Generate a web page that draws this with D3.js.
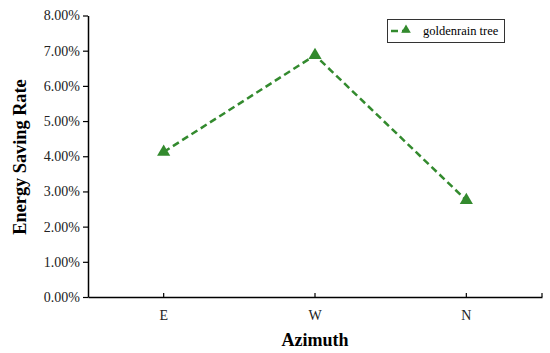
<!DOCTYPE html>
<html><head><meta charset="utf-8">
<script src="https://cdn.jsdelivr.net/npm/d3@7"></script>
<style>body{margin:0;background:#fff}svg{display:block}</style>
</head><body>
<svg id="c" width="550" height="353"></svg>
<script>
const categories = ["E", "W", "N"];
const values = [0.0412, 0.0687, 0.0275];
const yTicks = [0, 0.01, 0.02, 0.03, 0.04, 0.05, 0.06, 0.07, 0.08];
const seriesName = "goldenrain tree";

const svg = d3.select("#c");
const m = {l: 88, r: 542, t: 15.5, b: 297};
const green = "#338a2e";
const font = "'Liberation Serif', 'Times New Roman', serif";

const x = d3.scaleBand().domain(categories).range([m.l, m.r]);
const y = d3.scaleLinear().domain([0, 0.08]).range([m.b, m.t]);

// Y axis
const ya = svg.append("g").attr("transform", `translate(${m.l},0)`)
  .call(d3.axisLeft(y).tickValues(yTicks).tickFormat(d3.format(".2%")).tickSize(5).tickSizeOuter(0));
ya.attr("font-family", font);
ya.select(".domain").attr("stroke", "#000").attr("stroke-width", 1.5);
ya.selectAll(".tick line").attr("stroke", "#000").attr("stroke-width", 1.2);
ya.selectAll("text").attr("font-family", font).attr("font-size", 14).attr("fill", "#222").attr("x", -8);

// X axis
const xa = svg.append("g").attr("transform", `translate(0,${m.b})`)
  .call(d3.axisBottom(x).tickSize(-4).tickSizeOuter(0));
xa.attr("font-family", font);
xa.select(".domain").attr("stroke", "#000").attr("stroke-width", 1.5);
xa.selectAll(".tick line").attr("stroke", "#000").attr("stroke-width", 1.2);
xa.selectAll("text").attr("font-family", font).attr("font-size", 14).attr("fill", "#222").attr("y", 13);
svg.append("line").attr("x1", m.r).attr("x2", m.r).attr("y1", m.b).attr("y2", m.b - 4)
  .attr("stroke", "#000").attr("stroke-width", 1.2);

// Titles
svg.append("text").attr("x", (m.l + m.r) / 2).attr("y", 346).attr("text-anchor", "middle")
  .attr("font-family", font).attr("font-weight", "bold").attr("font-size", 18).text("Azimuth");
svg.append("text").attr("transform", `translate(26,${157}) rotate(-90)`)
  .attr("text-anchor", "middle").attr("font-family", font).attr("font-weight", "bold")
  .attr("font-size", 18.3).text("Energy Saving Rate");

// Line
const cx = d => x(d) + x.bandwidth() / 2;
const pts = categories.map((c, i) => [cx(c), y(values[i])]);
svg.append("path").attr("d", d3.line()(pts)).attr("fill", "none")
  .attr("stroke", green).attr("stroke-width", 2.5).attr("stroke-dasharray", "7,4");
const tri = d3.symbol().type(d3.symbolTriangle).size(75);
svg.selectAll(".mk").data(pts).join("path").attr("class", "mk")
  .attr("transform", d => `translate(${d[0]},${d[1]})`).attr("d", tri).attr("fill", green);

// Legend
const lg = svg.append("g");
lg.append("rect").attr("x", 387.5).attr("y", 19.5).attr("width", 117).attr("height", 23)
  .attr("fill", "#fff").attr("stroke", "#333").attr("stroke-width", 1);
lg.append("line").attr("x1", 391).attr("x2", 413).attr("y1", 31).attr("y2", 31)
  .attr("stroke", green).attr("stroke-width", 2.5).attr("stroke-dasharray", "7,4");
lg.append("path").attr("transform", "translate(406,30)").attr("d", d3.symbol().type(d3.symbolTriangle).size(40)).attr("fill", green);
lg.append("text").attr("x", 423).attr("y", 35).attr("font-family", font).attr("font-size", 12.5)
  .text(seriesName);
</script>
</body></html>
